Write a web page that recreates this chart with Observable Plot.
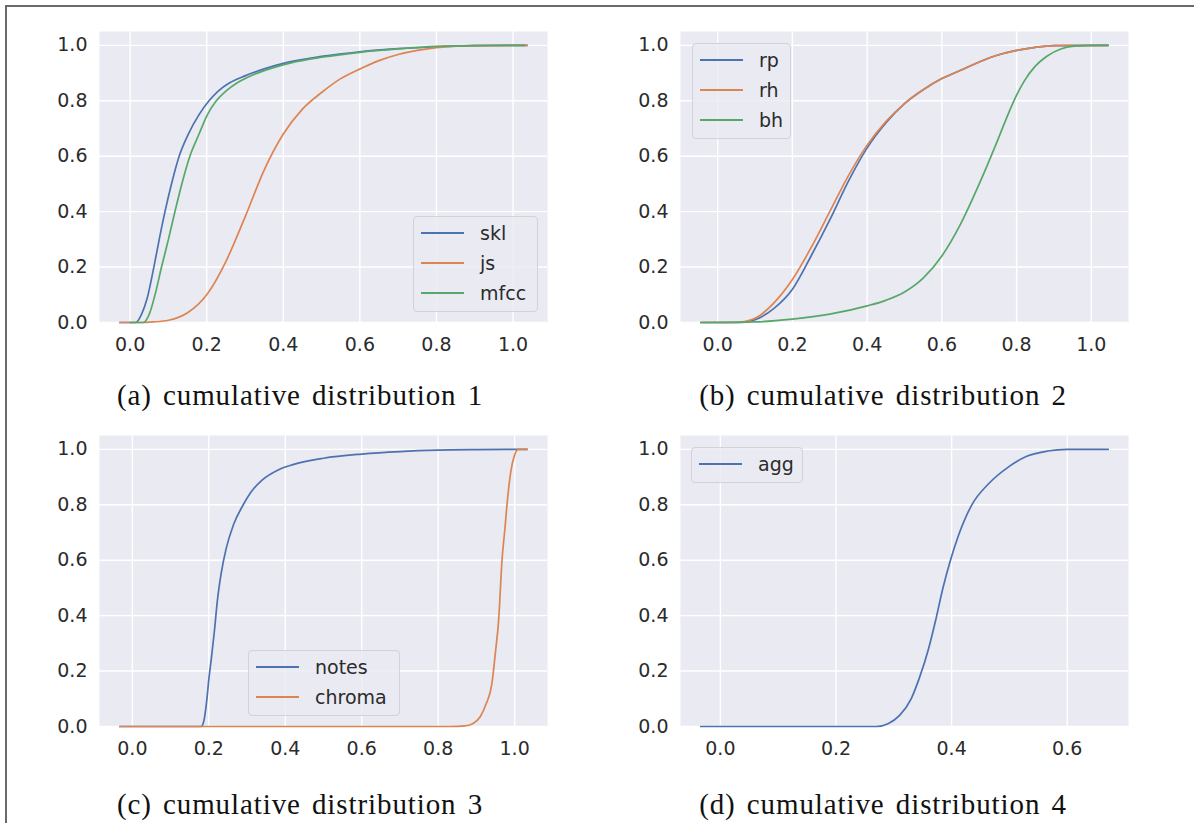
<!DOCTYPE html>
<html><head><meta charset="utf-8">
<script src="https://cdn.jsdelivr.net/npm/d3@7"></script>
<script src="https://cdn.jsdelivr.net/npm/@observablehq/plot@0.6"></script>
<style>
html,body{margin:0;padding:0;background:#fff;}
#page{position:relative;width:1194px;height:823px;overflow:hidden;background:#fff;}
#border{position:absolute;left:5px;top:5px;width:1189px;height:818px;border-left:2px solid #6a6a6a;border-top:2px solid #6a6a6a;box-sizing:border-box;}
.panel{position:absolute;}
.legend{position:absolute;box-sizing:border-box;border:1px solid #d2d2d8;border-radius:4px;background:rgba(234,234,242,0.8);font-family:'DejaVu Sans',sans-serif;font-size:19px;color:#2b2b2b;padding-top:1px;}
.row{height:30px;display:flex;align-items:center;white-space:nowrap;}
.sw{display:block;width:43px;height:2px;margin-left:7px;margin-right:16px;}
#captions{position:absolute;left:0;top:0;}
</style>
</head><body>
<div id="page"><div id="border"></div></div>
<script>
// ---- data ----
const palette = ["#4C72B0", "#DD8452", "#55A868"];

// panel (a)
const sklX  = [-0.027,0.015,0.03,0.045,0.062,0.076,0.091,0.108,0.128,0.152,0.18,0.206,0.23,0.26,0.3,0.35,0.4,0.5,0.6,0.7,0.8,0.9,1.037];
const sklY  = [0,0,0.03,0.09,0.2,0.3,0.4,0.5,0.6,0.68,0.75,0.8,0.835,0.865,0.89,0.915,0.935,0.96,0.977,0.988,0.995,0.999,1];
const jsX   = [-0.027,0.03,0.06,0.1,0.15,0.2,0.25,0.3,0.35,0.4,0.45,0.5,0.55,0.6,0.65,0.7,0.75,0.8,0.9,1.037];
const jsY   = [0,0,0.002,0.008,0.035,0.1,0.22,0.38,0.55,0.68,0.77,0.83,0.88,0.915,0.945,0.967,0.982,0.992,0.999,1];
const mfccX = [0.0,0.035,0.05,0.065,0.082,0.1,0.117,0.135,0.156,0.18,0.2,0.225,0.25,0.28,0.32,0.37,0.42,0.5,0.6,0.7,0.8,0.9,1.03];
const mfccY = [0,0,0.03,0.1,0.2,0.3,0.4,0.5,0.6,0.68,0.745,0.8,0.835,0.865,0.893,0.918,0.937,0.957,0.975,0.987,0.996,0.999,1];

// panel (b)
const rpX = [-0.045,0.06,0.1,0.15,0.2,0.25,0.3,0.35,0.4,0.45,0.5,0.55,0.6,0.65,0.7,0.75,0.8,0.85,0.9,1.045];
const rpY = [0,0,0.01,0.05,0.12,0.24,0.37,0.51,0.63,0.72,0.79,0.84,0.88,0.91,0.94,0.965,0.982,0.993,0.999,1];
const rhX = [-0.045,0.05,0.1,0.15,0.2,0.25,0.3,0.35,0.4,0.45,0.5,0.55,0.6,0.65,0.7,0.75,0.8,0.85,0.9,1.045];
const rhY = [0,0,0.015,0.07,0.155,0.27,0.4,0.53,0.64,0.725,0.79,0.84,0.88,0.91,0.94,0.965,0.982,0.993,0.999,1];
const bhX = [-0.045,0.1,0.2,0.3,0.4,0.45,0.5,0.55,0.6,0.65,0.7,0.75,0.78,0.8,0.82,0.85,0.88,0.92,0.96,1.0,1.045];
const bhY = [0,0.002,0.012,0.03,0.06,0.08,0.11,0.16,0.24,0.355,0.5,0.66,0.76,0.82,0.87,0.925,0.96,0.988,0.998,1,1];

// panel (c)
const notesX  = [-0.033,0.18,0.187,0.195,0.2,0.207,0.215,0.222,0.232,0.245,0.265,0.29,0.31,0.34,0.38,0.42,0.5,0.6,0.7,0.8,0.9,1.033];
const notesY  = [0,0,0.02,0.1,0.17,0.25,0.35,0.45,0.55,0.64,0.73,0.8,0.845,0.89,0.925,0.945,0.968,0.983,0.992,0.997,0.999,1];
const chromaX = [-0.033,0.83,0.87,0.89,0.91,0.925,0.94,0.95,0.958,0.967,0.975,0.98,0.99,1.0,1.01,1.033];
const chromaY = [0,0,0.002,0.01,0.035,0.08,0.15,0.27,0.38,0.6,0.72,0.8,0.92,0.98,1,1];

// panel (d)
const aggX = [-0.034,0.27,0.29,0.31,0.33,0.345,0.36,0.372,0.385,0.398,0.412,0.435,0.464,0.498,0.53,0.566,0.6,0.671];
const aggY = [0,0,0.01,0.04,0.1,0.18,0.28,0.38,0.5,0.6,0.69,0.8,0.876,0.936,0.975,0.994,1,1];

const ticksY = [0, 0.2, 0.4, 0.6, 0.8, 1.0];
const ticksX1 = [0, 0.2, 0.4, 0.6, 0.8, 1.0];
const ticksX2 = [0, 0.2, 0.4, 0.6];

const captions = ["(a) cumulative distribution 1", "(b) cumulative distribution 2",
                  "(c) cumulative distribution 3", "(d) cumulative distribution 4"];

const panels = [
  {names:["skl","js","mfcc"], xs:[sklX,jsX,mfccX], ys:[sklY,jsY,mfccY], domain:[-0.080,1.090], ticks:ticksX1,
   left:39, top:11, legend:{left:413, top:216, width:125}, cap:{x:300, y:405}},
  {names:["rp","rh","bh"], xs:[rpX,rhX,bhX], ys:[rpY,rhY,bhY], domain:[-0.0995,1.0995], ticks:ticksX1,
   left:620, top:11, legend:{left:692, top:43, width:99}, cap:{x:883, y:405}},
  {names:["notes","chroma"], xs:[notesX,chromaX], ys:[notesY,chromaY], domain:[-0.086,1.086], ticks:ticksX1,
   left:39, top:415, legend:{left:248, top:650, width:152}, cap:{x:300, y:814}},
  {names:["agg"], xs:[aggX], ys:[aggY], domain:[-0.069,0.706], ticks:ticksX2,
   left:620, top:415, legend:{left:691, top:447, width:112}, cap:{x:883, y:814}}
];

const page = document.getElementById("page");
const fmt = d3.format(".1f");

panels.forEach((p, i) => {
  const lineMarks = p.names.map((name, k) => {
    const data = p.xs[k].map((x, j) => ({x, y: p.ys[k][j], name}));
    return Plot.line(data, {x: "x", y: "y", stroke: palette[k], strokeWidth: 1.7, curve: "monotone-x"});
  });
  const chart = Plot.plot({
    width: 518, height: 351,
    marginLeft: 60, marginRight: 10, marginTop: 20, marginBottom: 40,
    x: {domain: p.domain},
    y: {domain: [0, 1.05]},
    style: {background: "transparent", fontFamily: "'DejaVu Sans', sans-serif", fontSize: "19px", color: "#2b2b2b", overflow: "visible"},
    marks: [
      Plot.frame({fill: "#EAEAF2", stroke: null}),
      Plot.gridX({ticks: p.ticks, stroke: "white", strokeOpacity: 1, strokeWidth: 1.4}),
      Plot.gridY({ticks: ticksY, stroke: "white", strokeOpacity: 1, strokeWidth: 1.4}),
      Plot.axisX({ticks: p.ticks, tickFormat: fmt, tickSize: 0, tickPadding: 15, label: null}),
      Plot.axisY({ticks: ticksY, tickFormat: fmt, tickSize: 0, tickPadding: 12, label: null}),
      ...lineMarks
    ]
  });
  const wrap = document.createElement("div");
  wrap.className = "panel";
  wrap.style.left = p.left + "px";
  wrap.style.top = p.top + "px";
  wrap.appendChild(chart);
  page.appendChild(wrap);

  // legend
  const lg = document.createElement("div");
  lg.className = "legend";
  lg.style.left = p.legend.left + "px";
  lg.style.top = p.legend.top + "px";
  lg.style.width = p.legend.width + "px";
  lg.style.height = (p.names.length * 30 + 6) + "px";
  p.names.forEach((name, k) => {
    const row = document.createElement("div");
    row.className = "row";
    const sw = document.createElement("span");
    sw.className = "sw";
    sw.style.background = palette[k];
    const tx = document.createElement("span");
    tx.textContent = name;
    row.appendChild(sw); row.appendChild(tx);
    lg.appendChild(row);
  });
  page.appendChild(lg);
});

// captions
const svg = d3.select(page).append("svg").attr("id", "captions").attr("width", 1194).attr("height", 823);
panels.forEach((p, i) => {
  svg.append("text").attr("x", p.cap.x).attr("y", p.cap.y)
    .attr("text-anchor", "middle")
    .style("font-family", "'Liberation Serif', serif")
    .style("font-size", "29px")
    .style("letter-spacing", "0.9px")
    .style("word-spacing", "3px")
    .attr("fill", "#111")
    .text(captions[i]);
});
</script>
</body></html>
